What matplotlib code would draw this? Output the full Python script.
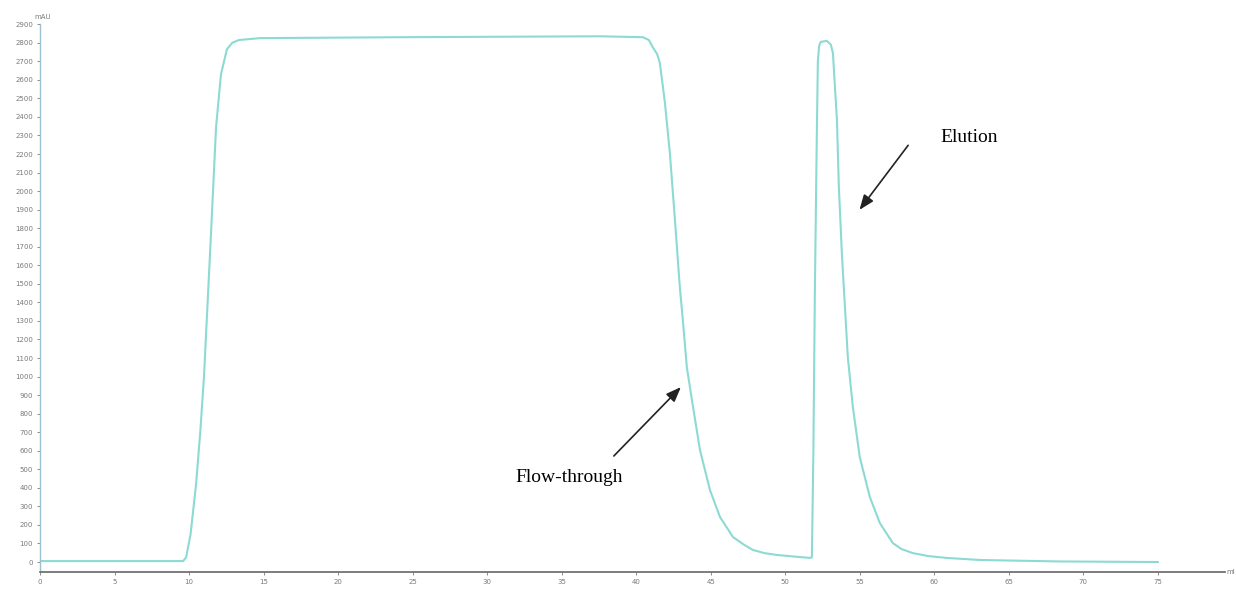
import matplotlib.pyplot as plt
import numpy as np

# chromatogram trace (ml, mAU)
volume_ml = [0, 5, 9.6, 9.8, 10.1, 10.47, 10.75, 11.0, 11.47, 11.81, 12.14, 12.54, 12.9, 13.35, 14.76,
             24.15, 37.57, 40.45, 40.85, 41.12, 41.4, 41.59, 41.93, 42.26, 42.6, 42.93, 43.13, 43.4, 43.74,
             44.28, 44.95, 45.62, 46.49, 47.2, 47.83, 48.6, 49.44, 51.65, 51.79, 51.89, 51.99, 52.12, 52.19,
             52.28, 52.39, 52.79, 53.06, 53.2, 53.47, 53.6, 53.8, 54.2, 54.54, 55.0, 55.68, 56.35,
             57.22, 57.8, 58.56, 59.6, 60.84, 63.06, 68.4, 75]
absorbance_mau = [5, 5, 5, 25, 150, 420, 700, 1000, 1770, 2345, 2630, 2765, 2800, 2815, 2825,
                  2830, 2835, 2830, 2815, 2775, 2740, 2690, 2475, 2205, 1845, 1480, 1305, 1050, 873,
                  604, 388, 243, 135, 95, 65, 48, 38, 22, 25, 600, 1466, 2300, 2700,
                  2785, 2805, 2810, 2790, 2745, 2383, 2020, 1665, 1105, 835, 566, 350, 210,
                  102, 70, 48, 32, 22, 11, 3, 0]

y_ticks = list(range(0, 3000, 100))
x_ticks = list(range(0, 80, 5))

fig = plt.figure(figsize=(12.36, 5.91), dpi=100)
ax = fig.add_axes([0.0324, 0.0321, 0.9586, 0.9269])

ax.plot(volume_ml, absorbance_mau, color='#8cdad3', lw=1.5, solid_joinstyle='round')

ax.set_xlim(0, 79.5)
ax.set_ylim(-54, 2900)
ax.set_yticks(y_ticks)
ax.set_yticklabels([str(v) for v in y_ticks])
ax.set_xticks(x_ticks)
ax.set_xticklabels([str(v) for v in x_ticks])
ax.tick_params(axis='both', labelsize=5, colors='#7a7a7a', length=2, width=0.6, pad=3)

for s in ['top', 'right']:
    ax.spines[s].set_visible(False)
ax.spines['left'].set_color('#9ebfd0')
ax.spines['left'].set_linewidth(1.0)
ax.spines['bottom'].set_color('#666666')
ax.spines['bottom'].set_linewidth(1.2)

ax.text(0.2, 2925, 'mAU', fontsize=5, color='#7a7a7a', ha='center', va='bottom')
ax.text(79.6, -54, 'ml', fontsize=5, color='#7a7a7a', ha='left', va='center')

arrow = dict(arrowstyle='-|>,head_length=0.9,head_width=0.35', color='#222222', lw=1.2)
ax.annotate('', xy=(54.87, 1887), xytext=(58.36, 2259), arrowprops=arrow)
ax.text(60.4, 2290, 'Elution', family='Liberation Serif', fontsize=14, ha='left', va='center')
ax.annotate('', xy=(43.13, 954), xytext=(38.37, 561), arrowprops=arrow)
ax.text(35.5, 458, 'Flow-through', family='Liberation Serif', fontsize=14, ha='center', va='center')

fig.savefig('out.png', dpi=100)
